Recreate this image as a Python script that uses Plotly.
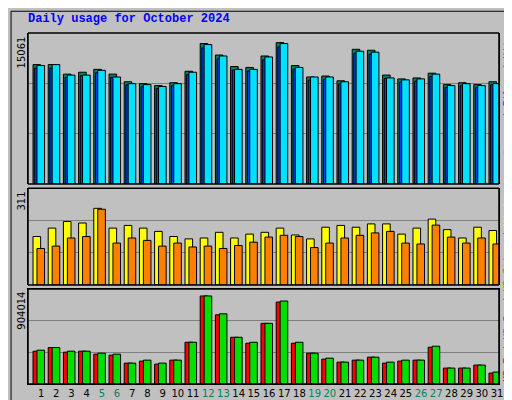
import plotly.graph_objects as go

days = list(range(1, 32))
weekend = [5, 6, 12, 13, 19, 20, 26, 27]

# values
hits = [12385, 12385, 11395, 11593, 11890, 11395, 10603, 10405, 10207, 10504,
        11692, 14566, 13378, 12187, 12088, 13280, 14665, 12286, 11098, 11197,
        10702, 13972, 13873, 11296, 10900, 10999, 11494, 10306, 10504, 10306, 10603]
files = [h * 0.97 for h in hits]
pages = [12286, 12385, 11296, 11296, 11791, 11098, 10405, 10306, 10108, 10405,
         11593, 14467, 13279, 11890, 11890, 13180, 14566, 12088, 11098, 11098,
         10603, 13774, 13675, 10999, 10801, 10900, 11395, 10207, 10405, 10207, 10405]
visits = [162, 190, 212, 207, 256, 190, 199, 190, 179, 162,
          154, 157, 176, 157, 170, 176, 190, 167, 154, 193,
          199, 193, 204, 204, 170, 190, 220, 185, 157, 193, 182]
sites = [122, 130, 157, 162, 253, 140, 157, 149, 130, 140,
         127, 130, 122, 132, 143, 160, 166, 162, 125, 140,
         157, 166, 174, 179, 140, 137, 200, 160, 140, 157, 137]
kb_f = [324305, 360337, 314478, 324305, 294824, 285000, 206384, 226036, 196558, 235862,
        412740, 870000, 684000, 461870, 402914, 599434, 810000, 402914, 304650, 245690,
        216210, 235862, 265342, 206384, 226036, 235862, 363612, 157254, 157254, 186732, 108123]
kb_in = [0] * 31
kb_out = [334130, 360337, 324305, 324305, 304650, 294824, 206384, 235862, 206384, 235862,
          412740, 870000, 693800, 461870, 412740, 599434, 820000, 412740, 304650, 255516,
          216210, 235862, 265342, 216210, 235862, 235862, 373438, 157254, 157254, 186732, 117949]
max_p1 = 15061
max_p2 = 311
max_p3 = 904014

fig = go.Figure()

def bar(x, y, color, off, w, ya):
    fig.add_trace(go.Bar(x=x, y=y, marker=dict(color=color, line=dict(color="black", width=1)),
                         offset=off, width=w, yaxis=ya, showlegend=False))

bar(days, hits, "#008060", -0.53, 0.5, "y")
bar(days, files, "#0040ff", -0.42, 0.3, "y")
bar(days, pages, "#00e0ff", -0.27, 0.5, "y")
bar(days, visits, "#ffff00", -0.53, 0.5, "y2")
bar(days, sites, "#ff8000", -0.27, 0.5, "y2")
bar(days, kb_f, "#ff0000", -0.53, 0.5, "y3")
bar(days, kb_in, "#0080ff", -0.42, 0.3, "y3")
bar(days, kb_out, "#00e000", -0.27, 0.5, "y3")

def yax(dom, mx):
    return dict(domain=dom, range=[0, mx * 1.04], tickvals=[mx * 1.04 / 3, mx * 2.08 / 3],
                showticklabels=False, ticks="", gridcolor="#808080", gridwidth=1, automargin=False,
                showline=True, linecolor="black", linewidth=1, mirror=True, zeroline=False)

fig.update_layout(
    width=512, height=400, barmode="overlay",
    paper_bgcolor="#c0c0c0", plot_bgcolor="#c0c0c0",
    margin=dict(l=20, r=21, t=25, b=24, autoexpand=False),
    font=dict(family="DejaVu Sans Mono", size=11, color="black"),
    xaxis=dict(range=[0.14, 31.13], tickvals=days, ticks="", showgrid=False, tickangle=0,
               automargin=False,
               ticktext=[f"<span style='color:#008060'>{d}</span>" if d in weekend else str(d) for d in days],
               showline=True, linecolor="black", mirror=True, anchor="y3",
               tickfont=dict(family="DejaVu Sans", size=10)),
    yaxis=yax([0.570, 1], max_p1),
    yaxis2=yax([0.282, 0.558], max_p2),
    yaxis3=yax([0, 0.271], max_p3),
)

# panel frames on top of the bars
for ya in ["y", "y2", "y3"]:
    fig.add_shape(type="rect", xref="x", yref=ya + " domain", x0=0.14, x1=31.13, y0=0, y1=1,
                  line=dict(color="black", width=1.5))

# max value labels on the left
for ya, mx in [("y", max_p1), ("y2", max_p2), ("y3", max_p3)]:
    fig.add_annotation(text=str(mx), textangle=-90, xref="paper", yref=ya + " domain",
                       x=-0.013, y=0.99, xanchor="center", yanchor="top", showarrow=False,
                       font=dict(family="DejaVu Sans", size=10))

# series legends on the right
legs = [("y", 1, "top", "<span style='color:#00e0ff'>Pages</span> / <span style='color:#0040ff'>Files</span> / <span style='color:#008060'>Hits</span>"),
        ("y2", 1, "top", "<span style='color:#ff8000'>Sites</span> / <span style='color:#ffff00'>Visits</span>"),
        ("y3", 0, "bottom", "<span style='color:#ff0000'>KB F</span> / <span style='color:#0080ff'>KB In</span> / <span style='color:#00c000'>KB Out</span>")]
for ya, yy, anc, t in legs:
    fig.add_annotation(text=t, textangle=-90, xref="paper", yref=ya + " domain",
                       x=1.017, y=yy, xanchor="center", yanchor=anc, showarrow=False,
                       font=dict(family="DejaVu Sans Mono", size=10, color="#606060"))

fig.add_annotation(text="<b>Daily usage for October 2024</b>", xref="paper", yref="paper",
                   x=-0.005, y=1.015, xanchor="left", yanchor="bottom", showarrow=False,
                   font=dict(family="Liberation Mono", size=12, color="#0000ff"))

# border around the image
fig.add_shape(type="rect", xref="paper", yref="paper", x0=-0.036, x1=1.038, y0=-0.062, y1=1.062,
              line=dict(color="black", width=1), layer="below")

fig.write_html("out.html")
